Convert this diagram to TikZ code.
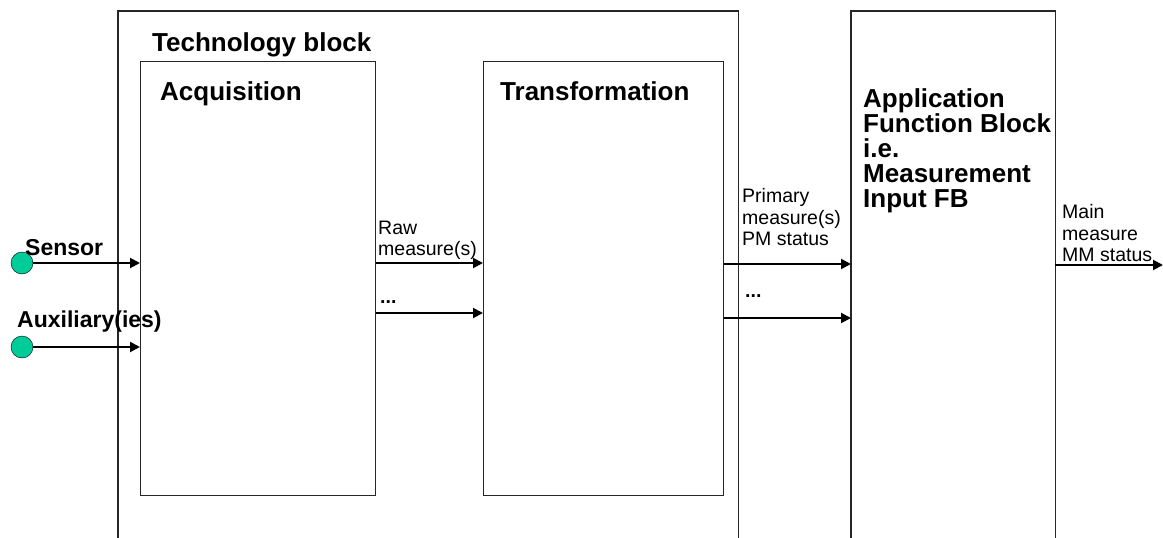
\documentclass[tikz,border=0pt]{standalone}
\usepackage{fontspec}
\setmainfont{Liberation Sans}
\usetikzlibrary{arrows.meta}
\definecolor{portgreen}{RGB}{0,204,153}
\begin{document}
\begin{tikzpicture}[x=1pt,y=-1pt]
  \tikzstyle{block}=[draw=black!85,line width=1.2pt,inner sep=0pt,anchor=north west]
  \tikzstyle{openblock}=[inner sep=0pt,anchor=north west]
  \tikzstyle{blocktitle}=[font=\fontsize{26}{25}\selectfont\bfseries,inner sep=0pt,anchor=base west,align=left]
  \tikzstyle{portlabel}=[font=\fontsize{23}{25}\selectfont\bfseries,inner sep=0pt,anchor=base west]
  \tikzstyle{signal}=[font=\fontsize{19.5}{21.5}\selectfont,inner sep=0pt,anchor=south west,align=left]
  \tikzstyle{dots}=[font=\fontsize{19.5}{21.5}\selectfont\bfseries,inner sep=0pt,anchor=base west]
  \tikzstyle{port}=[circle,draw,fill=portgreen,minimum size=22pt,inner sep=0pt]
  \tikzstyle{flow}=[draw,line width=2pt,-{Triangle[length=10pt,width=10pt]}]
  \useasboundingbox (0,0) rectangle (1163,538);

  % blocks
  \node[openblock,minimum width=620pt,minimum height=527pt] (tech) at (118,11) {};
  \draw[draw=black!85,line width=1.2pt] (tech.south west) -- (tech.north west) -- (tech.north east) -- (tech.south east);
  \node[block,minimum width=235pt,minimum height=434pt] (acq) at (140,61) {};
  \node[block,minimum width=240pt,minimum height=434pt] (trans) at (483,61) {};
  \node[openblock,minimum width=204pt,minimum height=527pt] (app) at (851,11) {};
  \draw[draw=black!85,line width=1.2pt] (app.south west) -- (app.north west) -- (app.north east) -- (app.south east);

  \node[blocktitle] (techtitle) at (152,51) {Technology block};
  \node[blocktitle] (acqtitle) at (160,100) {Acquisition};
  \node[blocktitle] (transtitle) at (500,100) {Transformation};
  \node[blocktitle,anchor=north west] (apptitle) at (863,88) {Application\\Function Block\\i.e.\\Measurement\\Input FB};

  % inputs
  \node[port] (sensor) at (22,263) {};
  \node[port] (aux) at (22,347) {};
  \node[portlabel] (sensorlabel) at (25,255) {Sensor};
  \node[portlabel] (auxlabel) at (17,327) {Auxiliary(ies)};
  \draw[flow] (sensor) -- (acq.west |- sensor);
  \draw[flow] (aux) -- (acq.west |- aux);

  % signals
  \coordinate (raw1) at (0,263);
  \coordinate (raw2) at (0,313);
  \coordinate (pm1) at (0,264);
  \coordinate (pm2) at (0,318);
  \coordinate (mm) at (0,265);
  \coordinate (out) at (1163,265);
  \draw[flow] (acq.east |- raw1) -- (trans.west |- raw1);
  \draw[flow] (acq.east |- raw2) -- (trans.west |- raw2);
  \draw[flow] (trans.east |- pm1) -- (app.west |- pm1);
  \draw[flow] (trans.east |- pm2) -- (app.west |- pm2);
  \draw[flow] (app.east |- mm) -- (out);

  \node[signal] (rawlabel) at (378,260) {Raw\\measure(s)};
  \node[dots] (rawdots) at (380,303) {...};
  \node[signal] (pmlabel) at (742,246) {Primary\\measure(s)\\PM status};
  \node[dots] (pmdots) at (745,297) {...};
  \node[signal] (mmlabel) at (1062,262) {Main\\measure\\MM status};
\end{tikzpicture}
\end{document}
